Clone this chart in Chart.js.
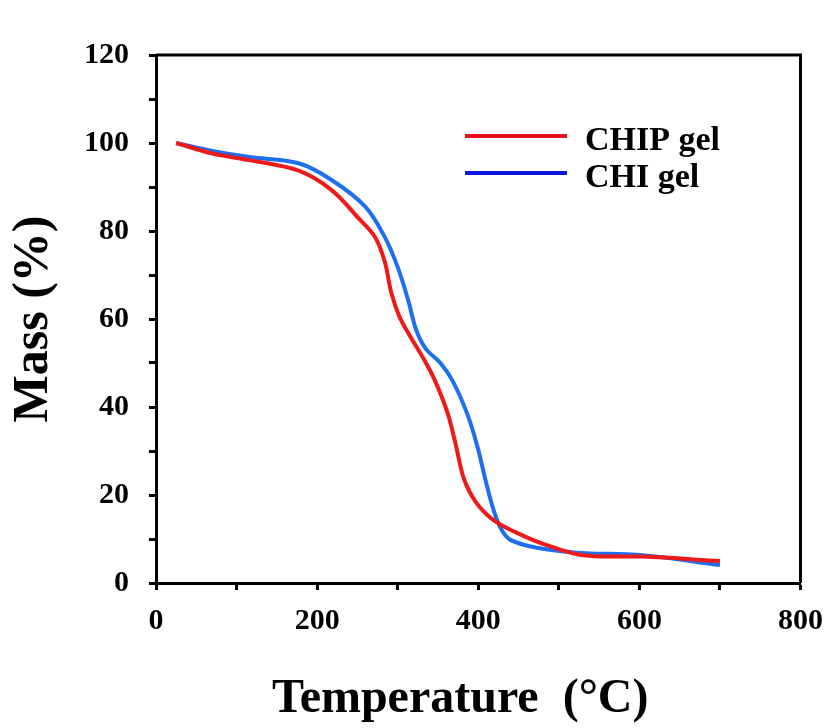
<!DOCTYPE html>
<html>
<head>
<meta charset="utf-8">
<script src="https://cdn.jsdelivr.net/npm/chart.js@4/dist/chart.umd.min.js"></script>
<style>
  body { margin: 0; background: #fff; }
</style>
</head>
<body>
<canvas id="tga" width="836" height="728"></canvas>
<script>
// TGA curves
const chipTemp = [25, 70, 116, 177, 218, 251, 272, 284, 292, 302, 316, 333, 346, 362, 372, 382, 397, 419, 448, 485, 530, 604, 700];
const chipMass = [100, 97.6, 96.1, 93.7, 89.3, 83, 78.6, 73, 66, 60.6, 55.9, 50.7, 46.1, 38.6, 31.5, 23.8, 18.4, 14.3, 11.4, 8.6, 6.3, 6, 5];

const chiTemp = [25, 70, 116, 177, 218, 260, 284, 300, 313, 323, 335, 353, 368, 386, 399, 409, 419, 428, 440, 473, 522, 604, 700];
const chiMass = [100, 98.2, 96.8, 95.4, 91.6, 85.5, 78.6, 71.8, 64.3, 57.5, 53.2, 50, 46, 38.6, 31, 23.4, 16.6, 12.4, 9.8, 8, 6.9, 6.3, 4.1];

const xTicks = [0, 200, 400, 600, 800];
const yTicks = [0, 20, 40, 60, 80, 100, 120];

const serif = '"Liberation Serif", "Times New Roman", serif';

function toPoints(xs, ys) {
    return xs.map((x, i) => ({ x: x, y: ys[i] }));
}

// top and right frame lines
const frame = {
    id: 'frame',
    afterDraw(chart) {
        const { ctx, chartArea: a } = chart;
        ctx.save();
        ctx.strokeStyle = '#000';
        ctx.lineWidth = 3;
        ctx.beginPath();
        ctx.moveTo(a.left, a.top);
        ctx.lineTo(a.right, a.top);
        ctx.lineTo(a.right, a.bottom);
        ctx.stroke();
        ctx.restore();
    }
};

// legend inside the plot, line + label
const lineLegend = {
    id: 'lineLegend',
    afterDraw(chart) {
        const { ctx, chartArea: a } = chart;
        ctx.save();
        ctx.font = 'bold 34px ' + serif;
        ctx.textBaseline = 'alphabetic';
        ctx.fillStyle = '#000';
        chart.data.datasets.forEach((ds, i) => {
            const y = a.top + 81 + i * 37;
            ctx.strokeStyle = ds.legendColor;
            ctx.lineWidth = 4;
            ctx.beginPath();
            ctx.moveTo(a.left + 309, y);
            ctx.lineTo(a.left + 411, y);
            ctx.stroke();
            ctx.fillText(ds.label, a.left + 429, y + 14);
        });
        ctx.restore();
    }
};

new Chart(document.getElementById('tga'), {
    type: 'line',
    data: {
        datasets: [
            {
                label: 'CHIP gel',
                data: toPoints(chipTemp, chipMass),
                borderColor: '#ee1a1a',
                legendColor: '#e8111b',
                borderWidth: 4,
                pointRadius: 0,
                tension: 0.35
            },
            {
                label: 'CHI gel',
                data: toPoints(chiTemp, chiMass),
                borderColor: '#1f6ef0',
                legendColor: '#0a16de',
                borderWidth: 4,
                pointRadius: 0,
                tension: 0.35
            }
        ]
    },
    options: {
        responsive: false,
        animation: false,
        layout: { padding: { top: 55, right: 30, left: 0, bottom: 0 } },
        plugins: {
            legend: { display: false },
            tooltip: { enabled: false }
        },
        scales: {
            x: {
                type: 'linear',
                min: 0,
                max: 800,
                afterFit(scale) { scale.height = 145; },
                border: { color: '#000', width: 3 },
                grid: { drawOnChartArea: false, tickLength: 7, tickWidth: 3, tickColor: '#000' },
                ticks: {
                    stepSize: 100,
                    padding: 13,
                    color: '#000',
                    font: { family: serif, size: 30, weight: 'bold' },
                    callback: v => xTicks.includes(v) ? v : ''
                },
                title: {
                    display: true,
                    text: 'Temperature  (°C)\u00a0\u00a0\u00a0',
                    color: '#000',
                    font: { family: serif, size: 48, weight: 'bold' },
                    padding: { top: 0, bottom: 0 }
                }
            },
            y: {
                min: 0,
                max: 120,
                afterFit(scale) { scale.width = 156; },
                border: { color: '#000', width: 3 },
                grid: { drawOnChartArea: false, tickLength: 7, tickWidth: 3, tickColor: '#000' },
                ticks: {
                    stepSize: 10,
                    padding: 20,
                    color: '#000',
                    font: { family: serif, size: 30, weight: 'bold' },
                    callback: v => yTicks.includes(v) ? v : ''
                },
                title: {
                    display: true,
                    text: 'Mass (%)',
                    color: '#000',
                    font: { family: serif, size: 50, weight: 'bold' },
                    padding: { top: 4, bottom: 0 }
                }
            }
        }
    },
    plugins: [frame, lineLegend]
});
</script>
</body>
</html>
